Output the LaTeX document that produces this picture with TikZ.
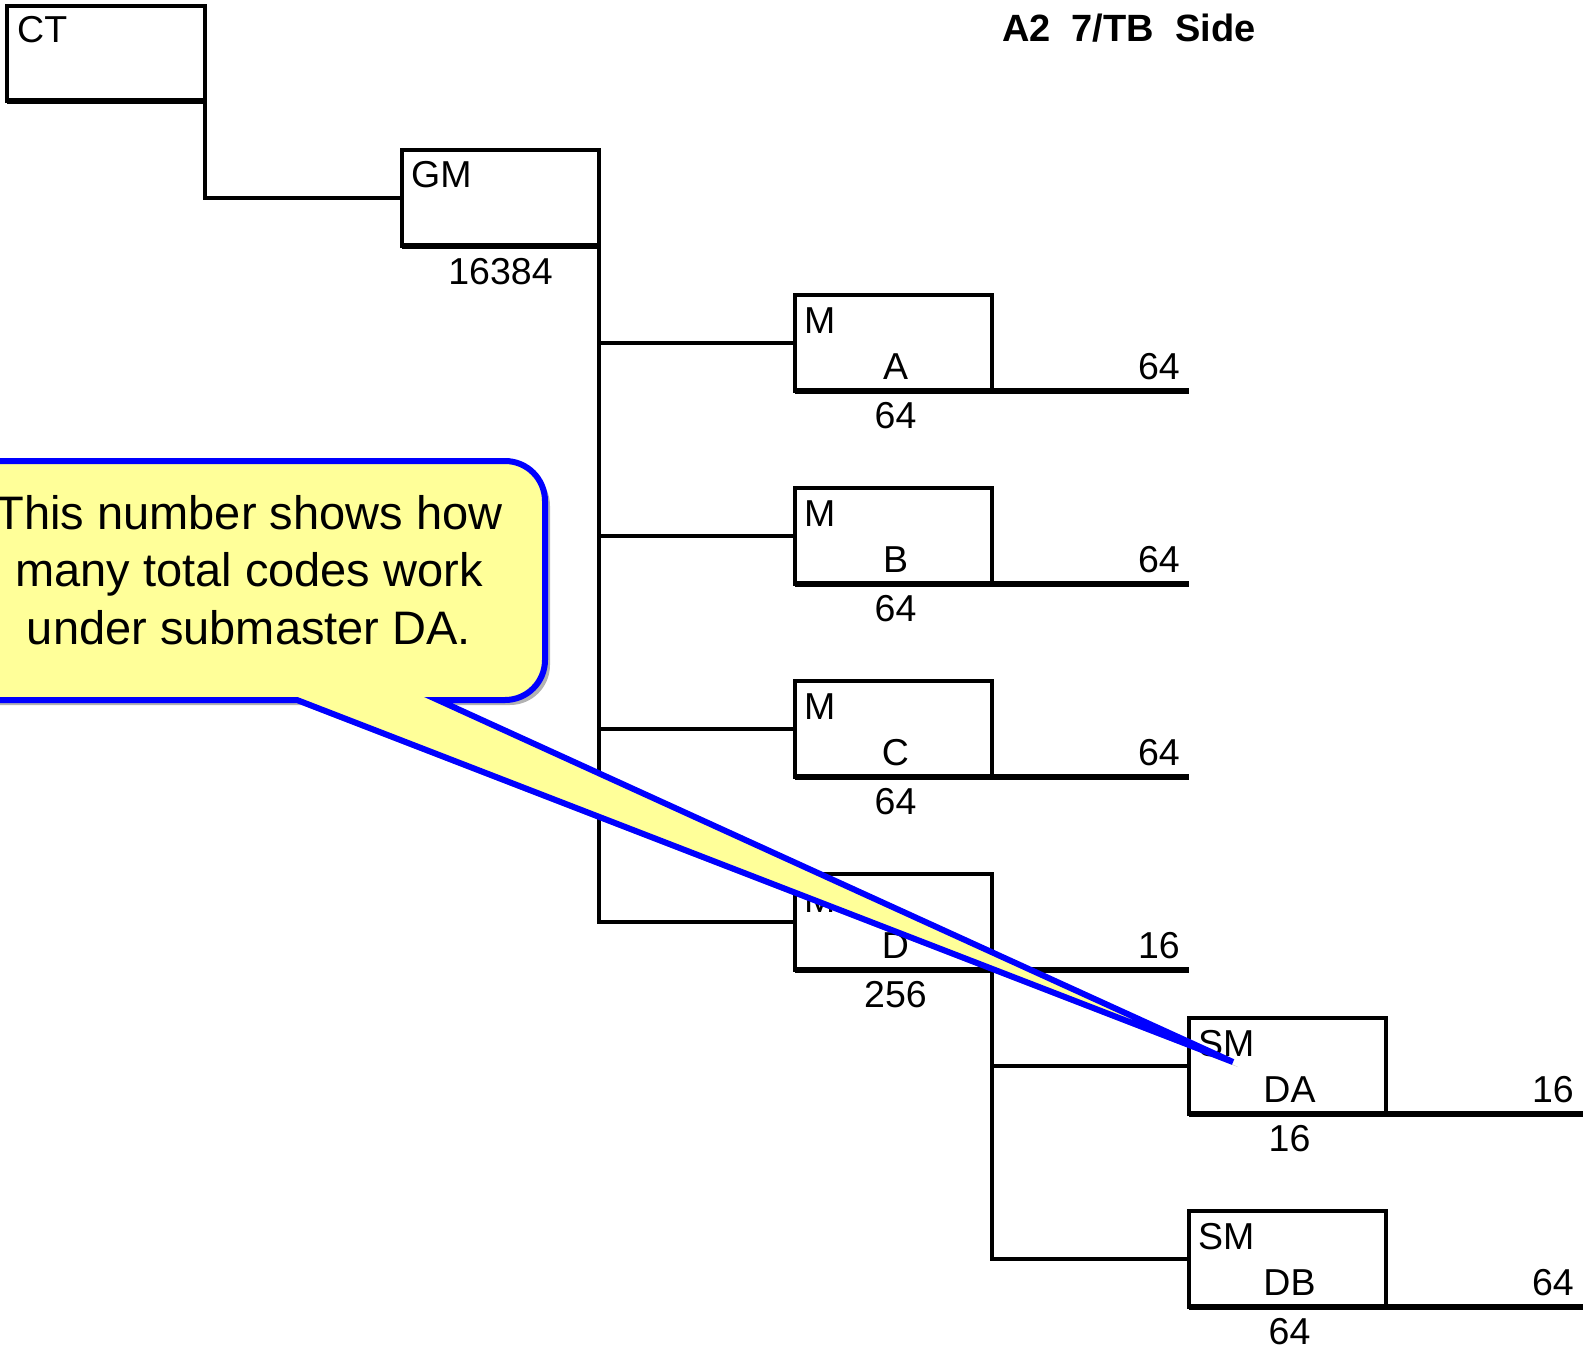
\documentclass[tikz,border=0pt]{standalone}
\usepackage{fontspec}
\setmainfont{Liberation Sans}
\usetikzlibrary{shadows}
\definecolor{callfill}{RGB}{255,255,153}
\definecolor{callblue}{RGB}{0,0,255}
\newcommand\boxfont{\fontsize{37.5}{45}\selectfont}
\newcommand\callfont{\fontsize{47}{57.5}\selectfont}
\newcommand\titlefont{\fontsize{38}{45}\selectfont\bfseries}
\tikzset{
  box/.style={draw, line width=4pt, minimum width=197pt, minimum height=96pt,
    inner sep=0pt, outer sep=0pt, anchor=north west},
  bar/.style={line width=6.5pt},
  conn/.style={line width=4pt},
  lbl/.style={font=\boxfont, inner sep=0pt, anchor=base west},
  clbl/.style={font=\boxfont, inner sep=0pt, anchor=base},
  rlbl/.style={font=\boxfont, inner sep=0pt, anchor=base east},
  callout/.style={fill=callfill, draw=callblue, line width=6pt, line join=miter,
    drop shadow={shadow xshift=5pt, shadow yshift=-5pt, opacity=0.3, fill=black}},
}
\begin{document}
\begin{tikzpicture}[x=1pt,y=-1pt]
\useasboundingbox (0,0) rectangle (1591,1347);
\fill[white] (0,0) rectangle (1591,1347);

% title
\node[font=\titlefont, inner sep=0pt, anchor=base west] (title) at (1002,41) {A2\ \ 7/TB\ \ Side};

% boxes
\node[box, minimum width=198pt, minimum height=95pt] (CT) at (7,6) {};
\node[box] (GM) at (402,150) {};
\node[box] (A) at (795,295) {};
\node[box] (B) at (795,488) {};
\node[box] (C) at (795,681) {};
\node[box] (D) at (795,874) {};
\node[box] (DA) at (1189,1018) {};
\node[box] (DB) at (1189,1211) {};

% thick bottom bars
\draw[bar] (CT.south west) -- (CT.south east);
\draw[bar] (GM.south west) -- (GM.south east);
\foreach \b in {A,B,C,D,DA,DB}{
  \draw[bar] (\b.south west) -- (\b.south east) -- ++(197,0) coordinate (\b end);
}

% connectors
\draw[conn] (CT.south east) |- (GM.west);
\draw[conn] (GM.south east) |- (D.west);
\draw[conn] (GM.south east |- A.west) -- (A.west);
\draw[conn] (GM.south east |- B.west) -- (B.west);
\draw[conn] (GM.south east |- C.west) -- (C.west);
\draw[conn] (D.south east) |- (DB.west);
\draw[conn] (D.south east |- DA.west) -- (DA.west);

% labels
\node[lbl] (CTl) at ([shift={(10,36)}]CT.north west) {CT};
\node[lbl] (GMl) at ([shift={(9,37)}]GM.north west) {GM};
\node[clbl] (GMn) at ([shift={(0,38)}]GM.south) {16384};

\foreach \b/\t/\n/\r/\k in {A/A/64/64/M, B/B/64/64/M, C/C/64/64/M, D/D/256/16/M, DA/DA/16/16/SM, DB/DB/64/64/SM}{
  \node[lbl] (\b k) at ([shift={(9,38)}]\b.north west) {\k};
  \node[clbl] (\b t) at ([shift={(2,-12)}]\b.south) {\t};
  \node[clbl] (\b n) at ([shift={(2,37)}]\b.south) {\n};
  \node[rlbl] (\b r) at ([shift={(-9,-12)}]\b end) {\r};
}

% callout
\coordinate (tip) at (1233,1062);
\begin{scope}
\clip (0,0) rectangle (1591,1347);
\path[callout] (-80,461) -- (505,461) arc[start angle=-90, end angle=0, radius=40]
  -- (545,660) arc[start angle=0, end angle=90, radius=40]
  -- (438,700) -- (tip) -- (297,700) -- (-80,700) -- cycle;
\end{scope}
\node[font=\callfont, align=center, inner sep=0pt, anchor=center] (note) at (249,570)
  {This number shows how\\many total codes work\\under submaster DA.};
\end{tikzpicture}
\end{document}
